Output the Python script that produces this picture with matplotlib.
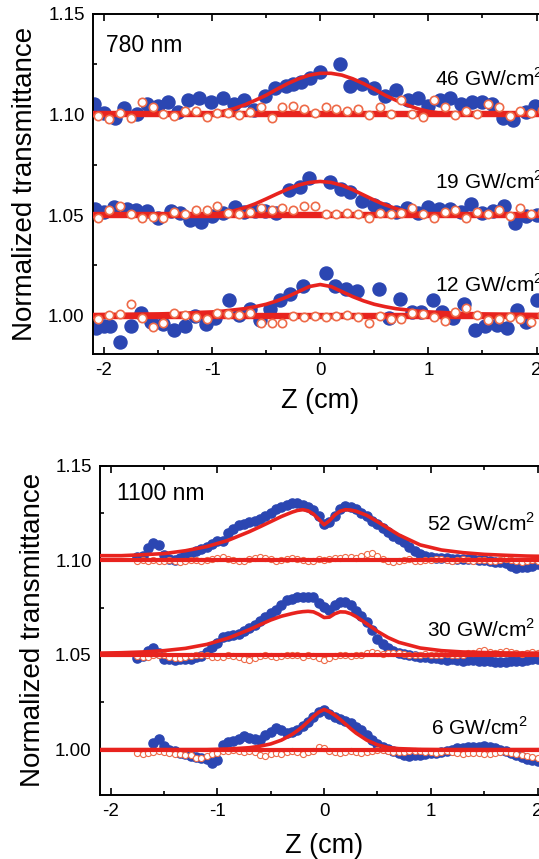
import numpy as np
import matplotlib
matplotlib.use('Agg')
import matplotlib.pyplot as plt
from matplotlib.ticker import MultipleLocator

plt.rcParams['font.family'] = ['Liberation Sans', 'DejaVu Sans']
plt.rcParams['axes.unicode_minus'] = False
plt.rcParams['mathtext.fontset'] = 'custom'
plt.rcParams['mathtext.rm'] = 'Liberation Sans'

# ---------------- 780 nm (top panel) ----------------
baselines_top = [1.10, 1.05, 1.00]
labels_top = [r'46 GW/cm$^\mathregular{2}$', r'19 GW/cm$^\mathregular{2}$', r'12 GW/cm$^\mathregular{2}$']

z46 = [-2.09, -2.0, -1.9, -1.81, -1.69, -1.6, -1.5, -1.41, -1.31, -1.22, -1.12, -1.01, -0.9, -0.8, -0.7,
       -0.61, -0.51, -0.42, -0.32, -0.25, -0.18, -0.09, 0.0, 0.18, 0.28, 0.39, 0.5, 0.6, 0.7, 0.81,
       0.9, 1.0, 1.11, 1.2, 1.3, 1.4, 1.5, 1.59, 1.69, 1.78, 1.9, 1.99, 2.08]
t46 = [1.105, 1.1005, 1.098, 1.103, 1.100, 1.105, 1.104, 1.106, 1.101, 1.107, 1.108, 1.106, 1.108, 1.105, 1.107,
       1.102, 1.109, 1.113, 1.114, 1.115, 1.116, 1.118, 1.121, 1.125, 1.114, 1.115, 1.113, 1.109, 1.112, 1.107,
       1.108, 1.104, 1.107, 1.108, 1.105, 1.106, 1.106, 1.105, 1.098, 1.097, 1.101, 1.104, 1.101]

z19 = [-2.08, -2.0, -1.91, -1.79, -1.7, -1.6, -1.5, -1.38, -1.3, -1.2, -1.1, -1.0, -0.9, -0.79, -0.7,
       -0.6, -0.51, -0.41, -0.29, -0.19, -0.1, 0.09, 0.19, 0.28, 0.39, 0.5, 0.6, 0.7, 0.8, 0.9,
       1.0, 1.1, 1.2, 1.3, 1.39, 1.5, 1.6, 1.7, 1.8, 1.9, 2.0, 2.08]
t19 = [1.053, 1.0515, 1.054, 1.053, 1.0524, 1.052, 1.0486, 1.052, 1.051, 1.0477, 1.0468, 1.0495, 1.051, 1.0538, 1.0515,
       1.052, 1.052, 1.0512, 1.0623, 1.064, 1.0683, 1.0665, 1.063, 1.0614, 1.0572, 1.055, 1.053, 1.0515, 1.0535, 1.051,
       1.0538, 1.053, 1.053, 1.0515, 1.0555, 1.051, 1.052, 1.0545, 1.046, 1.0495, 1.050, 1.051]

z12 = [-2.07, -2.0, -1.94, -1.85, -1.75, -1.66, -1.56, -1.45, -1.35, -1.25, -1.16, -1.06, -0.97, -0.84, -0.75,
       -0.65, -0.56, -0.46, -0.37, -0.28, -0.16, 0.05, 0.14, 0.24, 0.34, 0.54, 0.64, 0.74, 0.85, 0.93,
       1.04, 1.13, 1.23, 1.33, 1.43, 1.52, 1.63, 1.73, 1.82, 1.9, 2.0]
t12 = [0.994, 0.9947, 0.995, 0.987, 0.995, 1.0013, 0.997, 0.9957, 0.9931, 0.995, 1.0, 0.9957, 0.999, 1.0079, 1.0005,
       1.0035, 0.998, 1.0035, 1.0079, 1.011, 1.015, 1.021, 1.015, 1.0135, 1.0125, 1.0135, 0.999, 1.0085, 1.002, 1.002,
       1.0079, 1.002, 0.999, 1.006, 0.993, 0.995, 0.9955, 0.994, 1.003, 0.997, 1.008]

# open circles (low intensity reference), top panel
z_open_top = [-2.05, -1.95, -1.85, -1.75, -1.65, -1.55, -1.45, -1.35, -1.25, -1.15, -1.05, -0.95, -0.85, -0.75,
              -0.65, -0.55, -0.45, -0.35, -0.25, -0.15, -0.05, 0.05, 0.15, 0.25, 0.35, 0.45, 0.55, 0.65,
              0.75, 0.85, 0.95, 1.05, 1.15, 1.25, 1.35, 1.45, 1.55, 1.65, 1.75, 1.85, 1.95, 2.05]
o46 = [1.099, 1.0975, 1.1005, 1.098, 1.106, 1.1035, 1.100, 1.099, 1.1015, 1.1017, 1.0985, 1.1005, 1.1008, 1.0995,
       1.101, 1.1035, 1.098, 1.1035, 1.104, 1.1025, 1.1005, 1.1035, 1.1025, 1.1015, 1.1025, 1.0995, 1.1035, 1.100,
       1.107, 1.100, 1.0985, 1.107, 1.1035, 1.0995, 1.1015, 1.100, 1.105, 1.1035, 1.099, 1.1015, 1.1005, 1.102]
o19 = [1.0485, 1.0525, 1.0545, 1.0505, 1.0485, 1.049, 1.0485, 1.0515, 1.0505, 1.0525, 1.0525, 1.0545, 1.051, 1.0505,
       1.0515, 1.0535, 1.0525, 1.0535, 1.0525, 1.0545, 1.0545, 1.0505, 1.0505, 1.051, 1.0505, 1.0485, 1.051, 1.0505,
       1.051, 1.0535, 1.0505, 1.0485, 1.0515, 1.0525, 1.0485, 1.0515, 1.0505, 1.0525, 1.0495, 1.0535, 1.0505, 1.0515]
o12 = [0.9985, 1.0005, 1.001, 1.006, 0.999, 0.9945, 0.9965, 1.0015, 1.0005, 0.9995, 0.9985, 1.0015, 1.001, 1.0005,
       1.0015, 0.9965, 0.9965, 0.9965, 1.0, 0.9995, 1.0, 0.9995, 1.0, 1.0005, 0.9995, 0.9965, 1.0, 0.9985,
       0.9985, 1.0015, 1.001, 0.9995, 0.9975, 1.002, 1.004, 1.0005, 0.998, 0.9985, 0.9995, 0.9985, 0.997, 1.0005]

# fitted curves, top panel
zfit_top = [-2.1, -1.8, -1.5, -1.3, -1.2, -1.1, -1.0, -0.9, -0.8, -0.7, -0.6, -0.5, -0.4, -0.3, -0.2, -0.1, 0.0,
            0.1, 0.2, 0.3, 0.4, 0.5, 0.6, 0.7, 0.8, 0.9, 1.0, 1.1, 1.2, 1.3, 1.5, 1.8, 2.1]
fit46 = [1.1, 1.1, 1.1, 1.1, 1.1001, 1.1003, 1.1007, 1.1015, 1.1028, 1.1047, 1.107, 1.1095, 1.1125, 1.1153, 1.1177,
         1.1195, 1.1204, 1.1204, 1.1195, 1.1177, 1.1153, 1.1125, 1.1095, 1.107, 1.1047, 1.1028, 1.1015, 1.1007,
         1.1003, 1.1001, 1.1, 1.1, 1.1]
fit19 = [1.05, 1.05, 1.05, 1.05, 1.0501, 1.0502, 1.0505, 1.0511, 1.0521, 1.0536, 1.0556, 1.058, 1.0605, 1.0629,
         1.0649, 1.0662, 1.0667, 1.0662, 1.0648, 1.0626, 1.06, 1.0574, 1.0551, 1.0532, 1.0518, 1.0509, 1.0504,
         1.0502, 1.0501, 1.05, 1.05, 1.05, 1.05]
fit12 = [1.0005, 1.0007, 1.0009, 1.0012, 1.0014, 1.0017, 1.0019, 1.0023, 1.0029, 1.0035, 1.0045, 1.0057, 1.0074,
         1.0095, 1.012, 1.0145, 1.0155, 1.0145, 1.012, 1.0095, 1.0074, 1.0057, 1.0045, 1.0035, 1.0029, 1.0023,
         1.0019, 1.0017, 1.0014, 1.0012, 1.0009, 1.0007, 1.0005]

# ---------------- 1100 nm (bottom panel) ----------------
baselines_bot = [1.10, 1.05, 1.00]
labels_bot = [r'52 GW/cm$^\mathregular{2}$', r'30 GW/cm$^\mathregular{2}$', r'6 GW/cm$^\mathregular{2}$']

z_bot = [-1.75, -1.7, -1.65, -1.6, -1.55, -1.5, -1.45, -1.4, -1.35, -1.3, -1.25, -1.2, -1.15, -1.1, -1.05, -1.0,
         -0.95, -0.9, -0.85, -0.8, -0.75, -0.7, -0.65, -0.6, -0.55, -0.5, -0.45, -0.4, -0.35, -0.3, -0.25, -0.2,
         -0.15, -0.1, -0.05, 0.0, 0.05, 0.1, 0.15, 0.2, 0.25, 0.3, 0.35, 0.4, 0.45, 0.5, 0.55, 0.6, 0.65, 0.7,
         0.75, 0.8, 0.85, 0.9, 0.95, 1.0, 1.05, 1.1, 1.15, 1.2, 1.25, 1.3, 1.35, 1.4, 1.45, 1.5, 1.55, 1.6, 1.65,
         1.7, 1.75, 1.8, 1.85, 1.9, 1.95, 2.0, 2.05, 2.1]
t52 = [1.1018, 1.1025, 1.1065, 1.109, 1.108, 1.103, 1.1005, 1.100, 1.1015, 1.103, 1.104, 1.105, 1.106, 1.107,
       1.1085, 1.110, 1.1105, 1.1145, 1.1167, 1.1185, 1.1195, 1.1205, 1.121, 1.122, 1.1235, 1.125, 1.127, 1.128,
       1.1295, 1.1305, 1.1305, 1.1295, 1.128, 1.1265, 1.1235, 1.1195, 1.1205, 1.1235, 1.127, 1.1285, 1.128, 1.127,
       1.125, 1.1235, 1.121, 1.119, 1.117, 1.115, 1.113, 1.1115, 1.1095, 1.107, 1.105, 1.1035, 1.1025, 1.102,
       1.1015, 1.1015, 1.1015, 1.101, 1.101, 1.1005, 1.101, 1.1005, 1.1, 1.1, 1.0995, 1.099, 1.099, 1.0985, 1.097,
       1.096, 1.0965, 1.0965, 1.097, 1.098, 1.0975, 1.098]
t30 = [1.0485, 1.0495, 1.052, 1.0535, 1.051, 1.048, 1.0478, 1.0475, 1.048, 1.0478, 1.048, 1.0488, 1.0495, 1.0515,
       1.054, 1.0565, 1.0595, 1.0598, 1.0605, 1.061, 1.0625, 1.0645, 1.0658, 1.068, 1.0702, 1.072, 1.074, 1.0765,
       1.079, 1.0798, 1.0805, 1.0807, 1.0808, 1.0805, 1.0775, 1.0752, 1.0738, 1.0765, 1.0781, 1.078, 1.0763, 1.0735,
       1.0708, 1.0672, 1.063, 1.0585, 1.0558, 1.0535, 1.052, 1.0512, 1.0505, 1.050, 1.0495, 1.049, 1.0488, 1.0485,
       1.0482, 1.048, 1.0475, 1.0478, 1.0475, 1.047, 1.0472, 1.0475, 1.047, 1.0468, 1.047, 1.0465, 1.0462, 1.0465,
       1.0468, 1.047, 1.0468, 1.0475, 1.048, 1.0478, 1.0475, 1.0478]
t6 = [np.nan, np.nan, np.nan, 1.0035, 1.0055, 1.002, 1.0, 0.999, 0.998, 0.9975, 0.9968, 0.9962, 0.9955, 0.9948,
      0.993, 0.9945, 1.0025, 1.0038, 1.0043, 1.0055, 1.007, 1.0062, 1.0055, 1.0052, 1.0075, 1.0095, 1.0113, 1.0105,
      1.0088, 1.0092, 1.0104, 1.0125, 1.0148, 1.0172, 1.0198, 1.0208, 1.019, 1.0172, 1.016, 1.0152, 1.0138, 1.0122,
      1.0102, 1.0075, 1.005, 1.003, 1.0012, 1.0002, 0.9992, 0.9983, 0.9972, 0.9965, 0.997, 0.9974, 0.9976, 0.998,
      0.9983, 0.9985, 0.9992, 1.0, 1.0009, 1.001, 1.0012, 1.0012, 1.0015, 1.0017, 1.0015, 1.0008, 1.0, 0.9992,
      0.998, 0.9972, 0.996, 0.995, 0.9945, 0.994, 0.9935, 0.994]
o52 = [1.0995, 1.1, 1.0998, 1.1002, 1.0995, 1.0998, 1.1, 1.0995, 1.0992, 1.0998, 1.1002, 1.1, 1.0996, 1.1, 1.1008,
       1.1012, 1.1018, 1.101, 1.1, 1.0995, 1.0998, 1.1005, 1.1012, 1.102, 1.1015, 1.1005, 1.0995, 1.1, 1.1008,
       1.1015, 1.101, 1.1002, 1.0995, 1.0998, 1.1005, 1.1002, 1.1008, 1.1015, 1.1012, 1.1018, 1.102, 1.1015, 1.1025,
       1.1035, 1.104, 1.1025, 1.1005, 1.0995, 1.0992, 1.0998, 1.1, 1.1005, 1.0998, 1.0995, 1.1, 1.1002, 1.1008,
       1.1005, 1.1, 1.0998, 1.1002, 1.1005, 1.1, 1.0998, 1.1002, 1.1, 1.0995, 1.0998, 1.1002, 1.1005, 1.1, 1.0995,
       1.0992, 1.0995, 1.1, 1.0998, 1.0995, 1.0998]
o30 = [1.0495, 1.0488, 1.0492, 1.0498, 1.0502, 1.0498, 1.049, 1.0485, 1.0482, 1.049, 1.0495, 1.0498, 1.0502, 1.0498,
       1.0492, 1.0488, 1.0492, 1.0498, 1.0495, 1.0488, 1.048, 1.0475, 1.0485, 1.0495, 1.0498, 1.0495, 1.049, 1.0495,
       1.0502, 1.05, 1.0498, 1.0492, 1.0498, 1.0495, 1.0482, 1.0475, 1.0485, 1.0495, 1.05, 1.0498, 1.0495, 1.0498,
       1.0502, 1.0508, 1.0515, 1.0512, 1.0505, 1.0508, 1.0512, 1.0508, 1.0505, 1.05, 1.0498, 1.0502, 1.0505, 1.05,
       1.0498, 1.0502, 1.0505, 1.0502, 1.0498, 1.0502, 1.0508, 1.0512, 1.0522, 1.0525, 1.0518, 1.0512, 1.0515,
       1.0522, 1.0518, 1.051, 1.0505, 1.0512, 1.0518, 1.0512, 1.0505, 1.0508]
o6 = [0.998, 0.9975, 0.998, 0.9985, 0.999, 0.9985, 0.998, 0.9975, 0.9978, 0.9972, 0.997, 0.9958, 0.9955, 0.9965,
      0.9975, 0.9982, 0.999, 0.9995, 0.9998, 0.9992, 0.9985, 0.9995, 0.9985, 0.9972, 0.9968, 0.9975, 0.998, 0.9978,
      0.9985, 0.999, 0.9985, 0.9978, 0.9985, 0.9995, 1.0012, 1.0008, 0.9995, 0.9985, 0.998, 0.9988, 0.9995, 0.9988,
      0.9982, 0.9988, 0.9995, 1.0, 0.9998, 0.9992, 0.9988, 0.9985, 0.9988, 0.9992, 0.9995, 0.9992, 0.9988, 0.9985,
      0.9982, 0.9985, 0.999, 0.9985, 0.998, 0.9978, 0.998, 0.9982, 0.998, 0.9975, 0.9978, 0.9982, 0.9985, 0.9988,
      0.998, 0.9975, 0.997, 0.9965, 0.996, 0.9958, 0.9955, 0.996]

zfit_bot = [-2.1, -1.9, -1.7, -1.5, -1.3, -1.1, -0.9, -0.7, -0.6, -0.5, -0.4, -0.3, -0.25, -0.2, -0.15, -0.1,
            -0.05, 0.0, 0.05, 0.1, 0.15, 0.2, 0.25, 0.3, 0.4, 0.5, 0.6, 0.7, 0.9, 1.1, 1.3, 1.5, 1.7, 1.9, 2.1]
fit52 = [1.1025, 1.1025, 1.103, 1.1036, 1.1051, 1.1073, 1.1106, 1.1152, 1.1178, 1.1205, 1.1232, 1.1255, 1.1264,
         1.1268, 1.1262, 1.1245, 1.1218, 1.1188, 1.121, 1.124, 1.126, 1.1268, 1.1266, 1.126, 1.1238, 1.1205,
         1.117, 1.1135, 1.1082, 1.1055, 1.1041, 1.1032, 1.1027, 1.1023, 1.1021]
fit30 = [1.051, 1.0512, 1.0516, 1.0523, 1.0535, 1.0556, 1.0589, 1.0634, 1.066, 1.0685, 1.0705, 1.0719, 1.0725,
         1.0729, 1.0731, 1.0728, 1.0715, 1.0698, 1.07, 1.0718, 1.0728, 1.0727, 1.0718, 1.0703, 1.0665, 1.0625,
         1.0592, 1.0567, 1.0537, 1.0523, 1.0516, 1.0513, 1.0511, 1.051, 1.051]
fit6 = [1.0, 1.0, 1.0, 1.0, 1.0, 1.0, 1.0003, 1.001, 1.0018, 1.003, 1.005, 1.008, 1.01, 1.0122, 1.0148, 1.0175,
        1.0198, 1.0212, 1.02, 1.0182, 1.016, 1.0135, 1.011, 1.0087, 1.005, 1.0025, 1.0011, 1.0005, 1.0001, 1.0,
        1.0, 1.0, 1.0, 1.0, 1.0]

BLUE = '#2B46B2'
RED = '#E8231E'
OPEN = '#EE6A48'

fig = plt.figure(figsize=(5.39, 8.59), dpi=100)
W, H = 539.0, 859.0
ax1 = fig.add_axes([93 / W, (H - 354) / H, 454.4 / W, 340.3 / H])
ax2 = fig.add_axes([100 / W, (H - 795) / H, 448.2 / W, 329.2 / H])


def style(ax, ylo):
    ax.set_xlim(-2.1, 2.1)
    ax.set_ylim(ylo, 1.15)
    ax.xaxis.set_major_locator(MultipleLocator(1))
    ax.xaxis.set_minor_locator(MultipleLocator(0.5))
    ax.yaxis.set_major_locator(MultipleLocator(0.05))
    ax.yaxis.set_minor_locator(MultipleLocator(0.025))
    ax.yaxis.set_major_formatter(plt.FormatStrFormatter('%.2f'))
    ax.tick_params(which='both', direction='in', top=True, right=True, width=1.2, labelsize=13.5)
    ax.tick_params(which='major', length=5, pad=6)
    ax.tick_params(which='minor', length=3)
    for s in ax.spines.values():
        s.set_linewidth(1.4)
    ax.set_xlabel('Z (cm)', fontsize=19.5)
    ax.set_ylabel('Normalized transmittance', fontsize=20)


# top panel
for zz, tt in [(z46, t46), (z19, t19), (z12, t12)]:
    ax1.plot(zz, tt, 'o', color=BLUE, ms=9.4, mec=BLUE, zorder=2)
for b in baselines_top:
    ax1.axhline(b, color=RED, lw=4.6, zorder=3)
for ff in [fit46, fit19, fit12]:
    ax1.plot(zfit_top, ff, '-', color=RED, lw=2.6, zorder=3)
for oo in [o46, o19, o12]:
    ax1.plot(z_open_top, oo, 'o', mfc='white', mec=OPEN, ms=6.0, mew=1.2, zorder=4)
style(ax1, 0.981)
ax1.text(-1.98, 1.134, '780 nm', fontsize=16.5, va='center', ha='left')
for lab, ty in zip(labels_top, [1.118, 1.0665, 1.0153]):
    ax1.text(1.06, ty, lab, fontsize=15, va='center', ha='left')
ax1.xaxis.set_label_coords(0.5, -0.1)
ax1.yaxis.set_label_coords(-0.122, 0.5)

# bottom panel
for tt in [t52, t30, t6]:
    ax2.plot(z_bot, tt, 'o', color=BLUE, ms=6.6, mec=BLUE, zorder=2)
for oo in [o52, o30, o6]:
    ax2.plot(z_bot, oo, 'o', mfc='white', mec=OPEN, ms=4.4, mew=0.8, zorder=3)
for b in baselines_bot:
    ax2.axhline(b, color=RED, lw=3.0, zorder=4)
for ff in [fit52, fit30, fit6]:
    ax2.plot(zfit_bot, ff, '-', color=RED, lw=2.6, zorder=5)
style(ax2, 0.976)
ax2.text(-1.94, 1.1353, '1100 nm', fontsize=16.5, va='center', ha='left')
for lab, tx, ty in zip(labels_bot, [0.96, 0.96, 1.0], [1.1195, 1.0637, 1.0116]):
    ax2.text(tx, ty, lab, fontsize=15, va='center', ha='left')
ax2.xaxis.set_label_coords(0.5, -0.115)
ax2.yaxis.set_label_coords(-0.12, 0.5)

fig.savefig('out.png', dpi=100)
